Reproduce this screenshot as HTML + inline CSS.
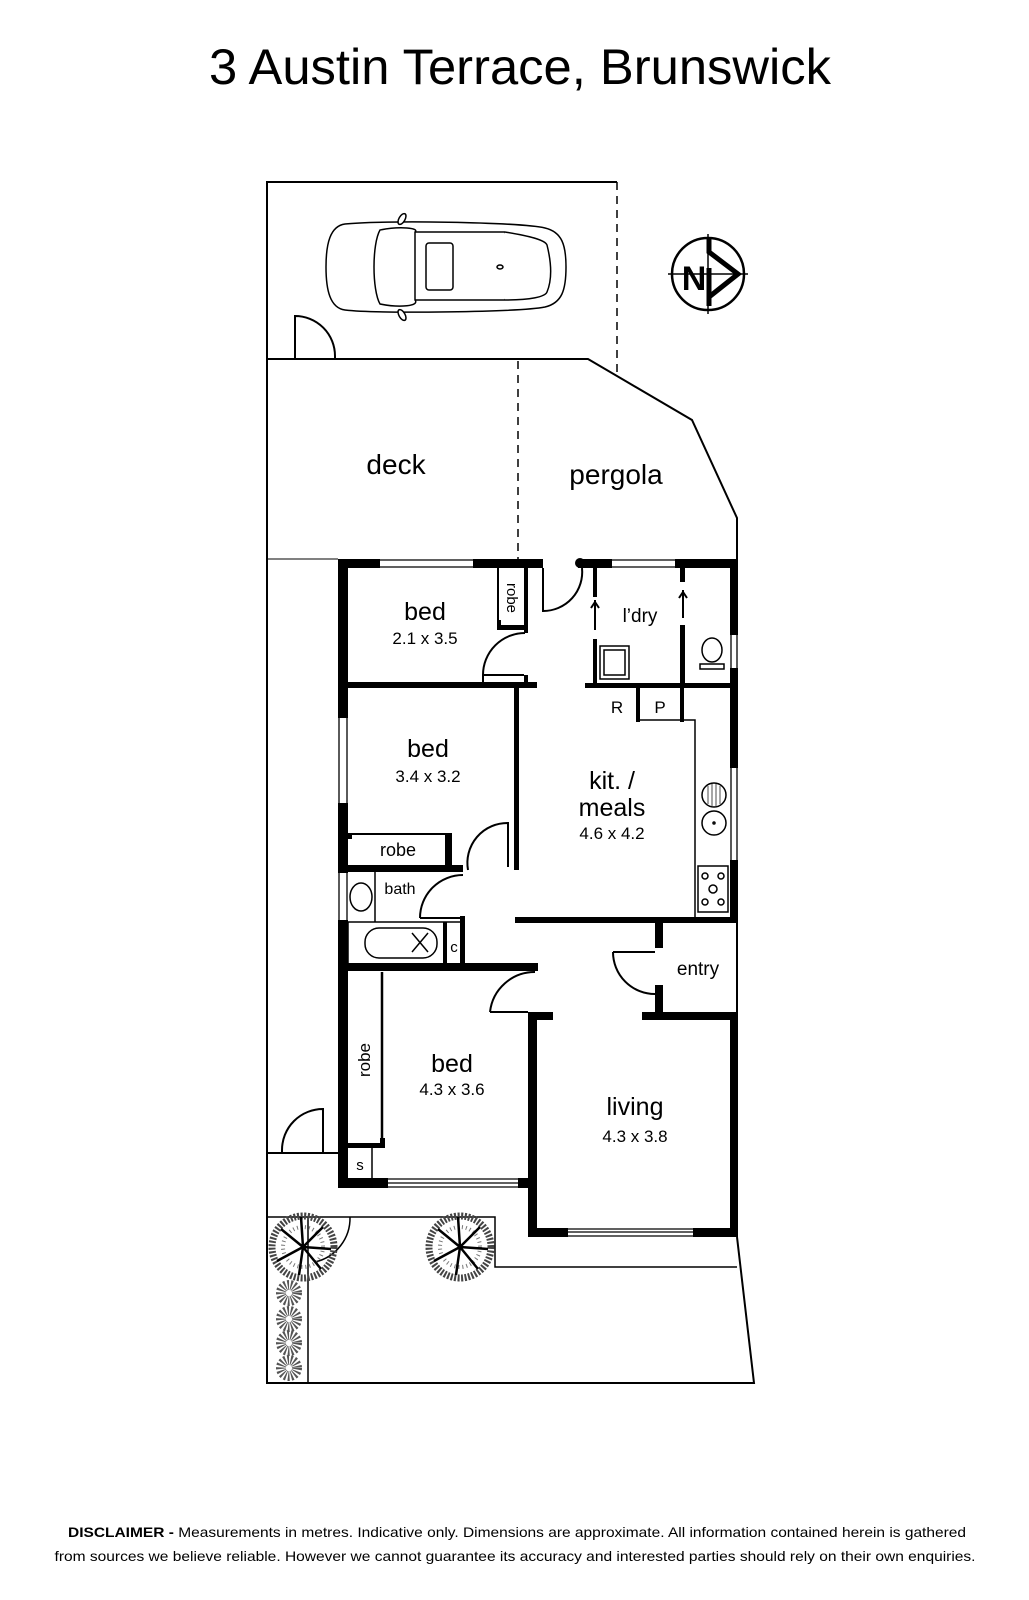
<!DOCTYPE html>
<html><head><meta charset="utf-8"><style>
html,body{margin:0;padding:0;background:#fff}
svg{display:block}
text{font-family:"Liberation Sans",Arial,sans-serif;fill:#000}
</style></head><body>
<svg width="1029" height="1600" viewBox="0 0 1029 1600" xmlns="http://www.w3.org/2000/svg">
<rect width="1029" height="1600" fill="#fff"/>
<text x="520" y="84" font-size="50" text-anchor="middle" textLength="622" lengthAdjust="spacingAndGlyphs">3 Austin Terrace, Brunswick</text>

<g fill="none" stroke="#000" stroke-width="2">
<polyline points="617,182 267,182 267,1383 754,1383 737,1237"/>
<line x1="617" y1="182" x2="617" y2="373" stroke-dasharray="8,6" stroke-width="1.5"/>
<polyline points="267,359 588,359 692,420 737,518 737,559"/>
<line x1="518" y1="361" x2="518" y2="559" stroke-dasharray="8,6" stroke-width="1.5"/>
<line x1="267" y1="559" x2="338" y2="559" stroke-width="1"/>
<path d="M295,359 V316 A40,40 0 0 1 335,356 V359"/>
<line x1="267" y1="1153" x2="338" y2="1153"/>
<path d="M323,1153 V1109 A41,41 0 0 0 282,1150 V1153"/>
<polyline points="267,1217 495,1217 495,1267 737,1267" stroke-width="1.5"/>
<line x1="308" y1="1217" x2="308" y2="1383" stroke-width="1.5"/>
<path d="M350,1217 A45,45 0 0 1 315,1262" stroke-width="1.5"/>
<line x1="737" y1="923" x2="737" y2="1012"/>
</g>

<g fill="#fff" stroke="#000" stroke-width="1.5">
<path d="M345,224 C380,220 520,222 545,228 C562,232 566,245 566,267 C566,290 562,303 545,307 C520,312 380,314 345,310 C330,308 326,290 326,267 C326,244 330,226 345,224 Z"/>
<path d="M380,230 C400,226 420,228 415,232 L415,300 C420,306 400,308 380,304 C372,290 372,244 380,230 Z"/>
<line x1="415" y1="232" x2="505" y2="232"/>
<line x1="415" y1="300" x2="505" y2="300"/>
<path d="M505,232 C515,250 515,285 505,300"/>
<path d="M505,232 C530,236 545,240 547,245 C552,265 552,280 547,292 C545,297 530,300 505,300" />
<rect x="426" y="243" width="27" height="47" rx="3"/>
<ellipse cx="500" cy="267" rx="3" ry="2"/>
<ellipse cx="402" cy="219" rx="3" ry="6" transform="rotate(30 402 219)"/>
<ellipse cx="402" cy="315" rx="3" ry="6" transform="rotate(-30 402 315)"/>
</g>

<g>
<circle cx="708" cy="274" r="36" fill="none" stroke="#000" stroke-width="2.5"/>
<line x1="668" y1="274" x2="748" y2="274" stroke="#000" stroke-width="1.5"/>
<line x1="708" y1="234" x2="708" y2="314" stroke="#000" stroke-width="1.5"/>
<polyline points="709,243 709,252 738,274 709,297 709,306" fill="none" stroke="#000" stroke-width="5"/>
<line x1="709" y1="238" x2="709" y2="306" stroke="#000" stroke-width="5" stroke-dasharray="14,16,40"/>
<text x="694" y="290" font-size="34" font-weight="bold" text-anchor="middle">N</text>
</g>

<g fill="#000">
<rect x="338" y="559" width="42" height="9"/>
<rect x="473" y="559" width="70" height="9"/>
<rect x="578" y="559" width="34" height="9"/>
<circle cx="580" cy="563" r="5"/>
<rect x="675" y="559" width="63" height="9"/>
<rect x="338" y="559" width="10" height="159"/>
<rect x="338" y="803" width="10" height="70"/>
<rect x="338" y="920" width="10" height="268"/>
<rect x="730" y="559" width="8" height="76"/>
<rect x="730" y="668" width="8" height="100"/>
<rect x="730" y="860" width="8" height="63"/>
<rect x="348" y="682" width="189" height="6"/>
<rect x="524" y="568" width="4" height="65"/>
<rect x="497" y="625" width="31" height="5"/>
<rect x="497" y="620" width="4" height="10"/>
<rect x="524" y="675" width="4" height="13"/>
<rect x="593" y="568" width="4" height="29"/>
<rect x="593" y="639" width="4" height="48"/>
<rect x="680" y="568" width="5" height="14"/>
<rect x="680" y="625" width="5" height="63"/>
<rect x="585" y="683" width="153" height="5"/>
<rect x="636" y="688" width="4" height="34"/>
<rect x="680" y="688" width="4" height="34"/>
<rect x="514" y="688" width="5" height="182"/>
<rect x="445" y="833" width="7" height="34"/>
<rect x="348" y="865" width="115" height="7"/>
<rect x="348" y="833" width="4" height="6"/>
<rect x="460" y="916" width="5" height="47"/>
<rect x="443" y="922" width="4" height="41"/>
<rect x="338" y="963" width="200" height="8"/>
<rect x="515" y="917" width="223" height="6"/>
<rect x="655" y="923" width="8" height="25"/>
<rect x="655" y="985" width="8" height="35"/>
<rect x="528" y="1012" width="9" height="225"/>
<rect x="528" y="1012" width="25" height="8"/>
<rect x="642" y="1012" width="96" height="8"/>
<rect x="730" y="1012" width="8" height="225"/>
<rect x="528" y="1228" width="40" height="9"/>
<rect x="693" y="1228" width="45" height="9"/>
<rect x="348" y="1143" width="37" height="5"/>
<rect x="380" y="1138" width="5" height="10"/>
<rect x="338" y="1178" width="50" height="10"/>
<rect x="518" y="1178" width="19" height="10"/>
</g>

<g stroke="#000" stroke-width="1.3" fill="none">
<line x1="380" y1="560" x2="473" y2="560"/><line x1="380" y1="567" x2="473" y2="567"/>
<line x1="612" y1="560" x2="675" y2="560"/><line x1="612" y1="567" x2="675" y2="567"/>
<line x1="339" y1="718" x2="339" y2="803"/><line x1="347" y1="718" x2="347" y2="803"/>
<line x1="339" y1="873" x2="339" y2="920"/><line x1="347" y1="873" x2="347" y2="920"/>
<line x1="731" y1="635" x2="731" y2="668"/><line x1="737" y1="635" x2="737" y2="668"/>
<line x1="731" y1="768" x2="731" y2="860"/><line x1="737" y1="768" x2="737" y2="860"/>
<line x1="388" y1="1179" x2="518" y2="1179"/><line x1="388" y1="1187" x2="518" y2="1187"/><line x1="388" y1="1183" x2="518" y2="1183"/>
<line x1="568" y1="1229" x2="693" y2="1229"/><line x1="568" y1="1236" x2="693" y2="1236"/><line x1="568" y1="1232" x2="693" y2="1232"/>
</g>

<g stroke="#000" stroke-width="2" fill="none">
<line x1="498" y1="568" x2="498" y2="625"/>
<path d="M483,688 V675 A42,42 0 0 1 525,633"/>
<line x1="483" y1="675" x2="524" y2="675"/>
<path d="M543,568 V611 A39,39 0 0 0 582,568"/>
<line x1="595" y1="600" x2="595" y2="630"/>
<path d="M591,608 l4,-6 l4,6"/>
<line x1="683" y1="590" x2="683" y2="618"/>
<path d="M679,598 l4,-6 l4,6"/>
<polyline points="640,720 695,720 695,917" stroke-width="1.5"/>
<line x1="348" y1="834" x2="452" y2="834"/>
<path d="M468,870 A40,40 0 0 1 508,823 V867"/>
<line x1="375" y1="872" x2="375" y2="922" stroke-width="1.5"/>
<path d="M420,918 A43,43 0 0 1 463,875"/>
<line x1="420" y1="918" x2="463" y2="918"/>
<line x1="348" y1="922" x2="463" y2="922" stroke-width="1.5"/>
<line x1="348" y1="963" x2="348" y2="922" stroke-width="1.5"/>
<path d="M613,952 A42,42 0 0 0 655,994"/>
<line x1="613" y1="952" x2="655" y2="952"/>
<path d="M490,1012 A45,45 0 0 1 535,972"/>
<line x1="490" y1="1012" x2="528" y2="1012"/>
<line x1="382" y1="972" x2="382" y2="1143" stroke-width="2.5"/>
<line x1="372" y1="1148" x2="372" y2="1178" stroke-width="1.5"/>
</g>

<g stroke="#000" stroke-width="1.5" fill="#fff">
<rect x="600" y="646" width="29" height="33"/>
<rect x="604" y="650" width="21" height="25"/>
<ellipse cx="712" cy="650" rx="10" ry="12"/>
<rect x="700" y="664" width="24" height="5"/>
<circle cx="714" cy="795" r="12"/>
<circle cx="714" cy="823" r="12"/>
<circle cx="714" cy="823" r="1"/>
<line x1="708" y1="786" x2="708" y2="804" stroke-width="0.7"/><line x1="712" y1="784" x2="712" y2="806" stroke-width="0.7"/><line x1="716" y1="784" x2="716" y2="806" stroke-width="0.7"/><line x1="720" y1="786" x2="720" y2="804" stroke-width="0.7"/>
<rect x="698" y="866" width="30" height="46"/>
<circle cx="713" cy="889" r="4"/>
<circle cx="705" cy="876" r="3"/><circle cx="721" cy="876" r="3"/><circle cx="705" cy="902" r="3"/><circle cx="721" cy="902" r="3"/>
<ellipse cx="361" cy="897" rx="11" ry="14"/>
<rect x="365" y="928" width="72" height="30" rx="14"/>
<line x1="412" y1="933" x2="428" y2="952"/><line x1="428" y1="933" x2="412" y2="952"/>
</g>

<g fill="none" stroke="#000">
<circle cx="303" cy="1247" r="31" stroke-width="7" stroke-dasharray="2,1.5" stroke="#444"/>
<circle cx="460" cy="1247" r="31" stroke-width="7" stroke-dasharray="2,1.5" stroke="#444"/>
<circle cx="303" cy="1247" r="20" stroke-width="4" stroke-dasharray="1,3" stroke="#777"/>
<circle cx="460" cy="1247" r="20" stroke-width="4" stroke-dasharray="1,3" stroke="#777"/>
<g stroke-width="2.5">
<path d="M303,1247 l-22,-18 M303,1247 l20,-20 M303,1247 l28,2 M303,1247 l18,22 M303,1247 l-4,28 M303,1247 l-26,14 M303,1247 l-2,-30"/>
<path d="M460,1247 l-22,-18 M460,1247 l20,-20 M460,1247 l28,2 M460,1247 l18,22 M460,1247 l-4,28 M460,1247 l-26,14 M460,1247 l-2,-30"/>
</g>
<g stroke-width="10" stroke-dasharray="1.5,1.5" stroke="#555">
<circle cx="289" cy="1293" r="8"/><circle cx="289" cy="1319" r="8"/><circle cx="289" cy="1343" r="8"/><circle cx="289" cy="1368" r="8"/>
</g>
</g>

<g text-anchor="middle">
<text x="396" y="474" font-size="28">deck</text>
<text x="616" y="484" font-size="28">pergola</text>
<text x="425" y="620" font-size="25">bed</text>
<text x="425" y="644" font-size="17">2.1 x 3.5</text>
<text x="428" y="757" font-size="25">bed</text>
<text x="428" y="782" font-size="17">3.4 x 3.2</text>
<text x="612" y="789" font-size="25">kit. /</text>
<text x="612" y="816" font-size="25">meals</text>
<text x="612" y="839" font-size="17">4.6 x 4.2</text>
<text x="640" y="622" font-size="19">l’dry</text>
<text x="617" y="713" font-size="17">R</text>
<text x="660" y="713" font-size="17">P</text>
<text x="398" y="856" font-size="18">robe</text>
<text x="400" y="894" font-size="16">bath</text>
<text x="454" y="952" font-size="15">c</text>
<text x="698" y="975" font-size="19">entry</text>
<text x="452" y="1072" font-size="25">bed</text>
<text x="452" y="1095" font-size="17">4.3 x 3.6</text>
<text x="635" y="1115" font-size="25">living</text>
<text x="635" y="1142" font-size="17">4.3 x 3.8</text>
<text x="360" y="1170" font-size="15">s</text>
<text transform="translate(507,598) rotate(90)" font-size="15">robe</text>
<text transform="translate(370,1060) rotate(-90)" font-size="17">robe</text>
</g>

<text x="517" y="1537" font-size="14" text-anchor="middle" textLength="898" lengthAdjust="spacingAndGlyphs"><tspan font-weight="bold">DISCLAIMER -</tspan> Measurements in metres. Indicative only. Dimensions are approximate. All information contained herein is gathered</text>
<text x="515" y="1561" font-size="14" text-anchor="middle" textLength="921" lengthAdjust="spacingAndGlyphs">from sources we believe reliable. However we cannot guarantee its accuracy and interested parties should rely on their own enquiries.</text>
</svg>
</body></html>
